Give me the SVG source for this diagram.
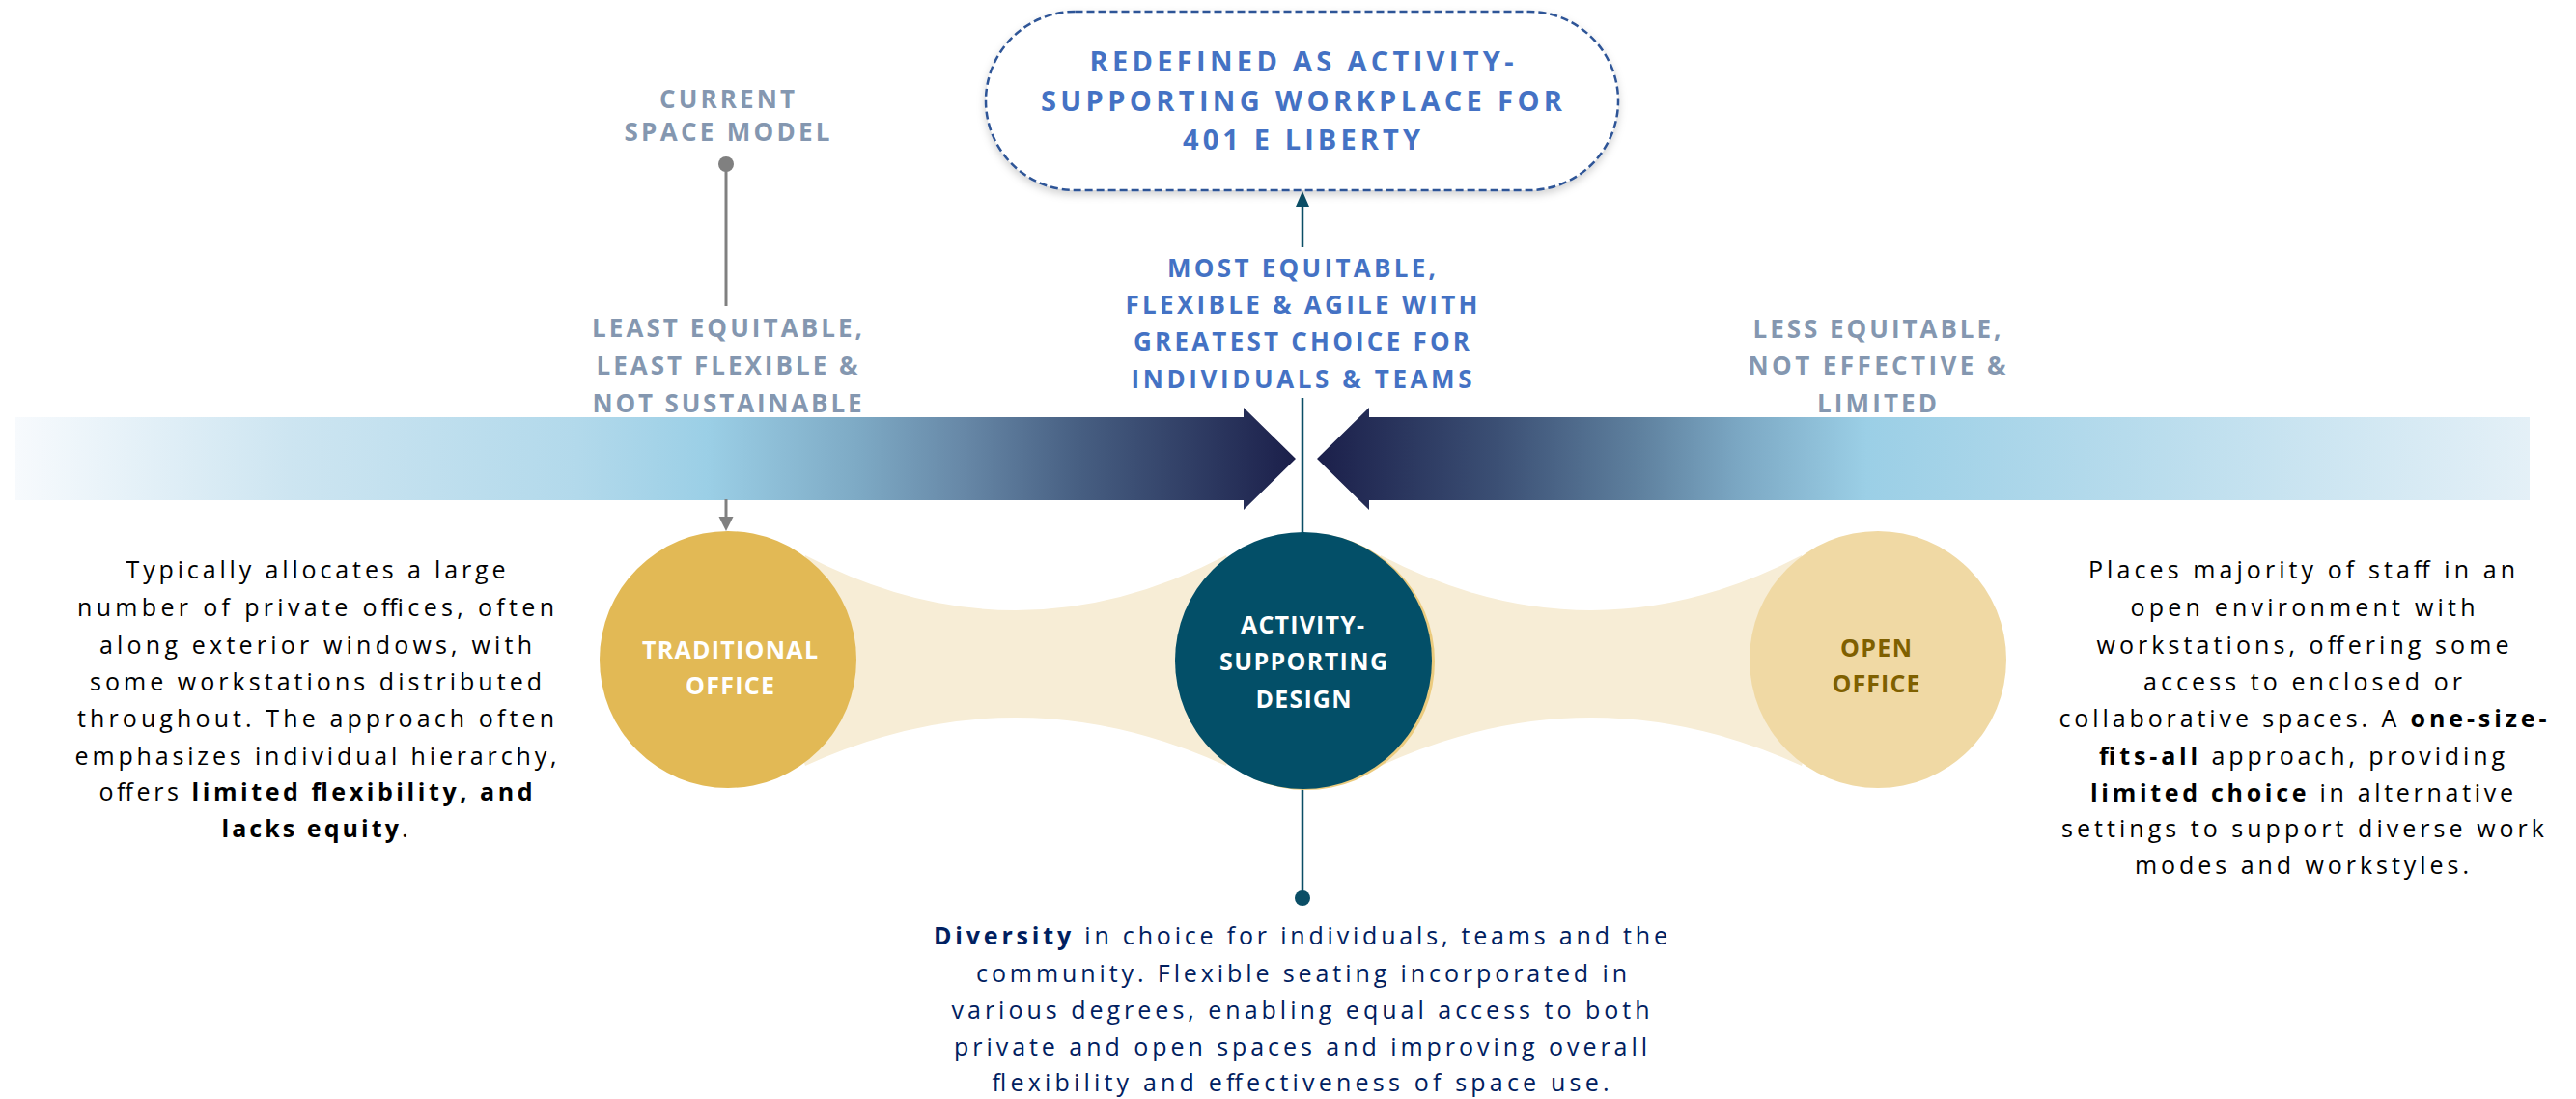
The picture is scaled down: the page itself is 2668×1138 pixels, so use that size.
<svg xmlns="http://www.w3.org/2000/svg" width="2668" height="1138" viewBox="0 0 2668 1138">
<defs>
<style>
.title{font-family:"Open Sans","Liberation Sans",sans-serif;font-weight:700;font-size:29px;fill:#4472C4;text-anchor:middle}
.blue{font-family:"Open Sans","Liberation Sans",sans-serif;font-weight:700;font-size:26px;fill:#4472C4;text-anchor:middle}
.grey{font-family:"Open Sans","Liberation Sans",sans-serif;font-weight:700;font-size:26px;fill:#8497B0;text-anchor:middle}
.body{font-family:"Open Sans","Liberation Sans",sans-serif;font-weight:400;font-size:25px;fill:#000000;text-anchor:middle}
.navy{fill:#002060}
.b{font-weight:700}
.cw{font-family:"Open Sans","Liberation Sans",sans-serif;font-weight:700;font-size:25px;fill:#FFFFFF;text-anchor:middle}
.cg{font-family:"Open Sans","Liberation Sans",sans-serif;font-weight:700;font-size:25px;fill:#7F6000;text-anchor:middle}
.teal{stroke:#0B4E66;stroke-width:2.5;fill:none}
.gray{stroke:#808080;stroke-width:3;fill:none}
.bridge{fill:#F7EDD6}
</style>
<linearGradient id="gl" gradientUnits="userSpaceOnUse" x1="16" y1="0" x2="1342" y2="0">
<stop offset="0" stop-color="#F7FAFD"/>
<stop offset="0.214" stop-color="#CDE5F1"/>
<stop offset="0.44" stop-color="#B2D9EB"/>
<stop offset="0.54" stop-color="#9BCFE6"/>
<stop offset="0.66" stop-color="#7DA9C4"/>
<stop offset="0.74" stop-color="#6788A7"/>
<stop offset="0.83" stop-color="#475F82"/>
<stop offset="1" stop-color="#1B1F4A"/>
</linearGradient>
<linearGradient id="gr" gradientUnits="userSpaceOnUse" x1="2620" y1="0" x2="1364" y2="0">
<stop offset="0" stop-color="#E4F0F7"/>
<stop offset="0.334" stop-color="#B6DBEC"/>
<stop offset="0.547" stop-color="#9BCFE6"/>
<stop offset="0.653" stop-color="#7BA7C3"/>
<stop offset="0.733" stop-color="#5F819F"/>
<stop offset="0.852" stop-color="#3B4F74"/>
<stop offset="1" stop-color="#1B1F4A"/>
</linearGradient>
<filter id="sh" x="-10%" y="-20%" width="120%" height="150%">
<feDropShadow dx="0" dy="4" stdDeviation="4" flood-color="#000000" flood-opacity="0.18"/>
</filter>
</defs>
<rect width="2668" height="1138" fill="#FFFFFF"/>

<g id="band">
<path d="M16,432 H1288 V422 L1342,475 L1288,528 V518 H16 Z" fill="url(#gl)"/>
<path d="M2620,432 H1418 V422 L1364,475 L1418,528 V518 H2620 Z" fill="url(#gr)"/>
</g>

<g id="bridges">
<path class="bridge" d="M834,575 Q1052,689 1270,575 L1300,684 L1270,793 Q1052,693 834,793 L800,684 Z"/>
<path class="bridge" d="M1430,575 Q1648,689 1866,575 L1900,684 L1866,793 Q1648,693 1430,793 L1400,684 Z"/>
</g>

<g id="connectors">
<circle cx="752" cy="170" r="8" fill="#808080"/>
<line class="gray" x1="752" y1="170" x2="752" y2="317"/>
<line class="gray" x1="752" y1="517" x2="752" y2="537"/>
<path d="M744.5,535 L759.5,535 L752,550 Z" fill="#808080"/>
<line class="teal" x1="1349" y1="256" x2="1349" y2="210"/>
<path d="M1342,214 L1356,214 L1349,198 Z" fill="#0B4E66"/>
<line class="teal" x1="1349" y1="412" x2="1349" y2="930"/>
<circle cx="1349" cy="930" r="8" fill="#0B4E66"/>
</g>

<g id="node-goal">
<rect x="1021" y="12" width="655" height="185" rx="92.5" ry="92.5" fill="#FFFFFF" stroke="#2F5597" stroke-width="2.5" stroke-dasharray="8 4" filter="url(#sh)"/>
<text class="title" x="1348" y="74" textLength="439" lengthAdjust="spacing">REDEFINED AS ACTIVITY-</text>
<text class="title" x="1348" y="115" textLength="540" lengthAdjust="spacing">SUPPORTING WORKPLACE FOR</text>
<text class="title" x="1348" y="155" textLength="246" lengthAdjust="spacing">401 E LIBERTY</text>
</g>

<g id="label-current">
<text class="grey" x="753" y="112" textLength="140" lengthAdjust="spacing">CURRENT</text>
<text class="grey" x="753" y="146" textLength="213" lengthAdjust="spacing">SPACE MODEL</text>
</g>

<g id="label-least">
<text class="grey" x="753" y="349" textLength="280" lengthAdjust="spacing">LEAST EQUITABLE,</text>
<text class="grey" x="753" y="388" textLength="271" lengthAdjust="spacing">LEAST FLEXIBLE &amp;</text>
<text class="grey" x="753" y="427" textLength="279" lengthAdjust="spacing">NOT SUSTAINABLE</text>
</g>

<g id="label-most">
<text class="blue" x="1348" y="287" textLength="278" lengthAdjust="spacing">MOST EQUITABLE,</text>
<text class="blue" x="1348" y="325" textLength="365" lengthAdjust="spacing">FLEXIBLE &amp; AGILE WITH</text>
<text class="blue" x="1348" y="363" textLength="348" lengthAdjust="spacing">GREATEST CHOICE FOR</text>
<text class="blue" x="1348" y="402" textLength="353" lengthAdjust="spacing">INDIVIDUALS &amp; TEAMS</text>
</g>

<g id="label-less">
<text class="grey" x="1944" y="350" textLength="257" lengthAdjust="spacing">LESS EQUITABLE,</text>
<text class="grey" x="1944" y="388" textLength="267" lengthAdjust="spacing">NOT EFFECTIVE &amp;</text>
<text class="grey" x="1944" y="427" textLength="124" lengthAdjust="spacing">LIMITED</text>
</g>

<g id="node-traditional">
<circle cx="754" cy="683" r="133" fill="#E2B955"/>
<text class="cw" x="756" y="682" textLength="182" lengthAdjust="spacing">TRADITIONAL</text>
<text class="cw" x="756" y="719" textLength="92" lengthAdjust="spacing">OFFICE</text>
</g>

<g id="node-activity">
<circle cx="1353" cy="685" r="133" fill="#EBCB7E"/>
<circle cx="1350" cy="684" r="133" fill="#034F68"/>
<text class="cw" x="1349" y="656" textLength="128" lengthAdjust="spacing">ACTIVITY-</text>
<text class="cw" x="1350" y="694" textLength="174" lengthAdjust="spacing">SUPPORTING</text>
<text class="cw" x="1350" y="733" textLength="99" lengthAdjust="spacing">DESIGN</text>
</g>

<g id="node-open">
<circle cx="1945" cy="683" r="133" fill="#F0D9A4"/>
<text class="cg" x="1943" y="680" textLength="74" lengthAdjust="spacing">OPEN</text>
<text class="cg" x="1943" y="717" textLength="91" lengthAdjust="spacing">OFFICE</text>
</g>

<g id="desc-traditional">
<text class="body" x="327" y="599" textLength="393" lengthAdjust="spacing">Typically allocates a large</text>
<text class="body" x="327" y="638" textLength="494" lengthAdjust="spacing">number of private offices, often</text>
<text class="body" x="327" y="677" textLength="448" lengthAdjust="spacing">along exterior windows, with</text>
<text class="body" x="327" y="715" textLength="468" lengthAdjust="spacing">some workstations distributed</text>
<text class="body" x="327" y="753" textLength="494" lengthAdjust="spacing">throughout. The approach often</text>
<text class="body" x="327" y="792" textLength="499" lengthAdjust="spacing">emphasizes individual hierarchy,</text>
<text class="body" x="327" y="829" textLength="449" lengthAdjust="spacing">offers <tspan class="b">limited flexibility, and</tspan></text>
<text class="body" x="326" y="867" textLength="193" lengthAdjust="spacing"><tspan class="b">lacks equity</tspan>.</text>
</g>

<g id="desc-open">
<text class="body" x="2384" y="599" textLength="442" lengthAdjust="spacing">Places majority of staff in an</text>
<text class="body" x="2385" y="638" textLength="357" lengthAdjust="spacing">open environment with</text>
<text class="body" x="2385" y="677" textLength="427" lengthAdjust="spacing">workstations, offering some</text>
<text class="body" x="2385" y="715" textLength="330" lengthAdjust="spacing">access to enclosed or</text>
<text class="body" x="2385" y="753" textLength="505" lengthAdjust="spacing">collaborative spaces. A <tspan class="b">one-size-</tspan></text>
<text class="body" x="2384" y="792" textLength="420" lengthAdjust="spacing"><tspan class="b">fits-all</tspan> approach, providing</text>
<text class="body" x="2384" y="830" textLength="438" lengthAdjust="spacing"><tspan class="b">limited choice</tspan> in alternative</text>
<text class="body" x="2385" y="867" textLength="500" lengthAdjust="spacing">settings to support diverse work</text>
<text class="body" x="2384" y="905" textLength="346" lengthAdjust="spacing">modes and workstyles.</text>
</g>

<g id="desc-activity">
<text class="body navy" x="1347" y="978" textLength="760" lengthAdjust="spacing"><tspan class="b">Diversity</tspan> in choice for individuals, teams and the</text>
<text class="body navy" x="1348" y="1017" textLength="674" lengthAdjust="spacing">community. Flexible seating incorporated in</text>
<text class="body navy" x="1347" y="1055" textLength="723" lengthAdjust="spacing">various degrees, enabling equal access to both</text>
<text class="body navy" x="1347" y="1093" textLength="718" lengthAdjust="spacing">private and open spaces and improving overall</text>
<text class="body navy" x="1347" y="1130" textLength="639" lengthAdjust="spacing">flexibility and effectiveness of space use.</text>
</g>
</svg>
